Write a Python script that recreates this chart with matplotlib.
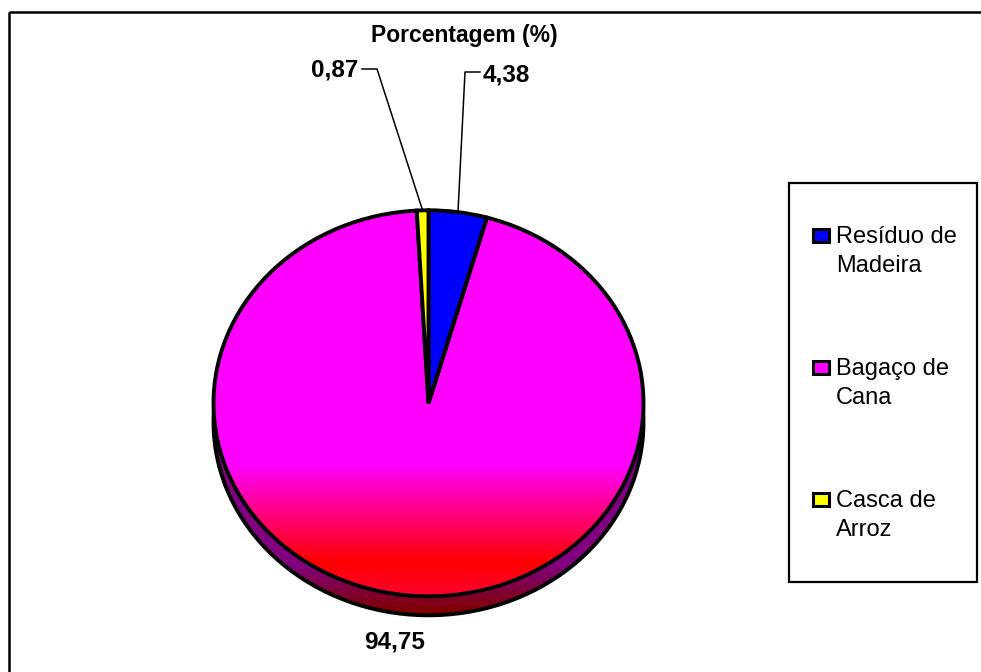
import numpy as np
import matplotlib
matplotlib.use('Agg')
import matplotlib.pyplot as plt
from matplotlib.patches import Rectangle

# ---- data ----
categories = ['Resíduo de\nMadeira', 'Bagaço de\nCana', 'Casca de\nArroz']
values = [4.38, 94.75, 0.87]
value_labels = ['4,38', '94,75', '0,87']
colors = ['#0000FF', '#FF00FF', '#FFFF00']
side_colors = ['#000080', '#800080', '#808000']
title = 'Porcentagem (%)'

plt.rcParams['font.family'] = ['Liberation Sans', 'DejaVu Sans']

W, H = 981, 672
fig = plt.figure(figsize=(W / 100, H / 100), dpi=100)
fig.patch.set_facecolor('white')

# overlay axes in pixel coordinates
ax0 = fig.add_axes([0, 0, 1, 1])
ax0.set_xlim(0, W)
ax0.set_ylim(H, 0)
ax0.axis('off')
ax0.set_zorder(0)

# outer frame
ax0.add_patch(Rectangle((9, 12), 990, 680, fill=False, edgecolor='black', linewidth=1.8))

# pie geometry (pixels)
cx, cy, rx, ry, dep = 428.5, 403.3, 215.0, 193.0, 19.0
d = dep / ry
axp = fig.add_axes([(cx - rx) / W, (H - (cy + ry + dep)) / H, 2 * rx / W, (2 * ry + dep) / H])
axp.set_zorder(1)
axp.patch.set_alpha(0)
lw = 2.8

# side (depth) pie
side_w, _ = axp.pie(values, colors=side_colors, startangle=90, counterclock=False,
                    center=(0, -d), radius=1,
                    wedgeprops=dict(edgecolor='black', linewidth=lw))
# top pie
top_w, _ = axp.pie(values, colors=colors, startangle=90, counterclock=False,
                   center=(0, 0), radius=1,
                   wedgeprops=dict(edgecolor='black', linewidth=lw))


def grad(stops, p0, p1, n=400):
    py = np.linspace(p0, p1, n)
    sp = [s[0] for s in stops]
    arr = np.zeros((n, 2, 3))
    for c in range(3):
        vals = np.interp(py, sp, [s[1][c] for s in stops]) / 255.0
        arr[:, 0, c] = vals
        arr[:, 1, c] = vals
    return arr


p0, p1 = 195, 625
ext = (-1, 1, (cy - p1) / ry, (cy - p0) / ry)
top_stops = [(195, (255, 0, 255)), (465, (255, 0, 255)), (563, (255, 0, 0)), (625, (255, 0, 90))]
side_stops = [(195, (128, 0, 128)), (565, (128, 0, 128)), (612, (128, 0, 0)), (625, (118, 0, 20))]

for i, w in enumerate(side_w):
    w.set_zorder(2)
    w.set_clip_on(False)
    if i == 1:
        w.set_facecolor('none')
        im = axp.imshow(grad(side_stops, p0, p1), extent=ext, origin='upper',
                        aspect='auto', interpolation='bilinear', zorder=1.5)
        im.set_clip_path(w)
for i, w in enumerate(top_w):
    w.set_zorder(5)
    w.set_clip_on(False)
    if i == 1:
        w.set_facecolor('none')
        im = axp.imshow(grad(top_stops, p0, p1), extent=ext, origin='upper',
                        aspect='auto', interpolation='bilinear', zorder=4)
        im.set_clip_path(w)

axp.set_aspect('auto')
axp.set_xlim(-1, 1)
axp.set_ylim(-1 - d, 1)
axp.axis('off')

fs = 17.5
# title
ax0.text(464, 41.7, title, ha='center', va='baseline', fontsize=16.5, fontweight='bold')


def rim_px(w):
    th = np.deg2rad((w.theta1 + w.theta2) / 2)
    disp = axp.transData.transform((np.cos(th), np.sin(th)))
    return ax0.transData.inverted().transform(disp)


# value labels with leader lines
a = rim_px(top_w[0])
ex, ey = 465, 72
ax0.plot([a[0], ex, ex + 15], [a[1], ey, ey], color='black', lw=1.1, zorder=10)
ax0.text(483, 81.7, value_labels[0], ha='left', va='baseline', fontsize=fs, fontweight='bold')

a = rim_px(top_w[2])
ex, ey = 377, 69
ax0.plot([a[0], ex, ex - 15], [a[1], ey, ey], color='black', lw=1.1, zorder=10)
ax0.text(358, 76, value_labels[2], ha='right', va='baseline', fontsize=fs, fontweight='bold')

ax0.text(394.5, 649, value_labels[1], ha='center', va='baseline', fontsize=fs, fontweight='bold')

# legend
ax0.add_patch(Rectangle((789, 183), 188, 399, fill=False, edgecolor='black', linewidth=1.6))
base0, step, lsp = 243.0, 132.0, 28.7
for i, (cat, col) in enumerate(zip(categories, colors)):
    b = base0 + i * step
    ax0.add_patch(Rectangle((813.2, b - 13.8), 15.3, 12.6, facecolor=col,
                            edgecolor='black', linewidth=2.2))
    for j, line in enumerate(cat.split('\n')):
        ax0.text(836, b + j * lsp, line, ha='left', va='baseline', fontsize=17)

fig.savefig('out.png', dpi=100, facecolor='white')
